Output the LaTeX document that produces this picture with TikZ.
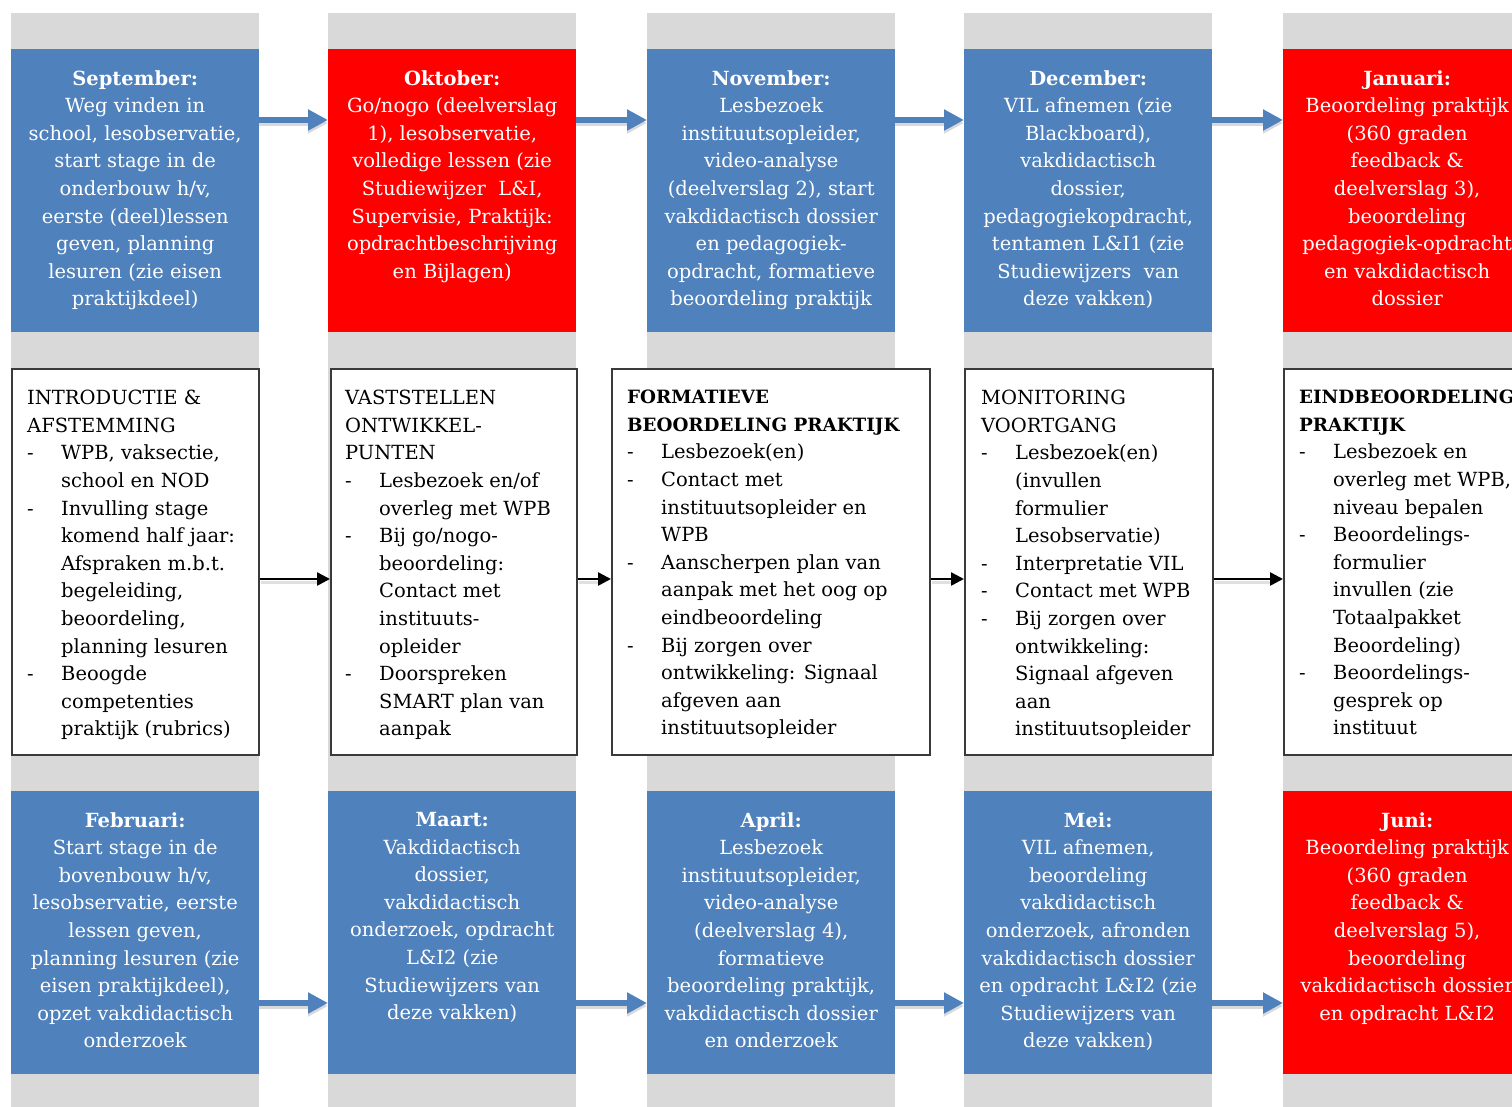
\documentclass[tikz,border=0pt]{standalone}
\usepackage{fontspec}
\setmainfont{DejaVu Serif}
\usetikzlibrary{calc,arrows.meta}
\definecolor{blueb}{HTML}{4F81BD}
\definecolor{redb}{HTML}{FF0000}
\definecolor{greyc}{HTML}{D9D9D9}
\definecolor{boxline}{HTML}{3A3A3A}
\newcommand\itm[1]{\makebox[34pt][l]{-}#1}
\newcommand\cnt[1]{\hspace*{34pt}#1}
\newcommand\hdb[1]{{\fontsize{18.3pt}{27.6pt}\selectfont\textbf{#1}}}
\tikzset{
  greycol/.style={fill=greyc,draw=none},
  monthbox/.style={minimum width=248pt,minimum height=283pt,inner sep=0pt,anchor=north west,draw=none},
  bluebox/.style={monthbox,fill=blueb},
  redbox/.style={monthbox,fill=redb},
  montht/.style={text=white,align=center,inner sep=0pt,anchor=north,font=\fontsize{19.5pt}{27.6pt}\selectfont},
  midbox/.style={draw=boxline,line width=1.5pt,fill=white,anchor=north west,inner sep=0pt,minimum height=386pt},
  midt/.style={align=left,anchor=north west,inner sep=0pt,text=black,font=\fontsize{19.5pt}{27.6pt}\selectfont},
  blockarrow/.style={draw=blueb,line width=6pt,-{Triangle[width=20pt,length=20pt]}},
  blockshadow/.style={draw=black!25,opacity=0.6,line width=6pt,-{Triangle[width=20pt,length=20pt]}},
  thinarrow/.style={draw=black,line width=2.5pt,-{Triangle[width=13pt,length=13pt]}},
  thinshadow/.style={draw=black!20,opacity=0.6,line width=3pt},
}
\begin{document}
\begin{tikzpicture}[x=1pt,y=-1pt]
\useasboundingbox (0,0) rectangle (1512,1107);
\clip (0,0) rectangle (1512,1107);
% grey columns
\foreach \cx in {11,328,647,964,1283}{
  \fill[greycol] (\cx,13) rectangle ++(248,1094);
}
% top row
\node[bluebox] (t1) at (11,49) {};
\node[redbox]  (t2) at (328,49) {};
\node[bluebox] (t3) at (647,49) {};
\node[bluebox] (t4) at (964,49) {};
\node[redbox]  (t5) at (1283,49) {};
% bottom row
\node[bluebox] (u1) at (11,791) {};
\node[bluebox] (u2) at (328,791) {};
\node[bluebox] (u3) at (647,791) {};
\node[bluebox] (u4) at (964,791) {};
\node[redbox]  (u5) at (1283,791) {};
% middle row
\node[midbox,minimum width=247pt] (m1) at (11,368) {};
\node[midbox,minimum width=246pt] (m2) at (330,368) {};
\node[midbox,minimum width=318pt] (m3) at (611,368) {};
\node[midbox,minimum width=248pt] (m4) at (964,368) {};
\node[midbox,minimum width=260pt] (m5) at (1283,368) {};

% top texts
\node[montht] (tt1) at ($(t1.north)+(0,21)$) {\textbf{September:}\\Weg vinden in\\school, lesobservatie,\\start stage in de\\onderbouw h/v,\\eerste (deel)lessen\\geven, planning\\lesuren (zie eisen\\praktijkdeel)};
\node[montht] (tt2) at ($(t2.north)+(0,21)$) {\textbf{Oktober:}\\Go/nogo (deelverslag\\1), lesobservatie,\\volledige lessen (zie\\Studiewijzer\ \ L\&I,\\Supervisie, Praktijk:\\opdrachtbeschrijving\\en Bijlagen)};
\node[montht] (tt3) at ($(t3.north)+(0,21)$) {\textbf{November:}\\Lesbezoek\\instituutsopleider,\\video-analyse\\(deelverslag 2), start\\vakdidactisch dossier\\en pedagogiek-\\opdracht, formatieve\\beoordeling praktijk};
\node[montht] (tt4) at ($(t4.north)+(0,21)$) {\textbf{December:}\\VIL afnemen (zie\\Blackboard),\\vakdidactisch\\dossier,\\pedagogiekopdracht,\\tentamen L\&I1 (zie\\Studiewijzers\ \ van\\deze vakken)};
\node[montht] (tt5) at ($(t5.north)+(0,21)$) {\textbf{Januari:}\\Beoordeling praktijk\\(360 graden\\feedback \&\\deelverslag 3),\\beoordeling\\pedagogiek-opdracht\\en vakdidactisch\\dossier};
% bottom texts
\node[montht] (ut1) at ($(u1.north)+(0,21)$) {\textbf{Februari:}\\Start stage in de\\bovenbouw h/v,\\lesobservatie, eerste\\lessen geven,\\planning lesuren (zie\\eisen praktijkdeel),\\opzet vakdidactisch\\onderzoek};
\node[montht] (ut2) at ($(u2.north)+(0,21)$) {\textbf{Maart:}\\Vakdidactisch\\dossier,\\vakdidactisch\\onderzoek, opdracht\\L\&I2 (zie\\Studiewijzers van\\deze vakken)};
\node[montht] (ut3) at ($(u3.north)+(0,21)$) {\textbf{April:}\\Lesbezoek\\instituutsopleider,\\video-analyse\\(deelverslag 4),\\formatieve\\beoordeling praktijk,\\vakdidactisch dossier\\en onderzoek};
\node[montht] (ut4) at ($(u4.north)+(0,21)$) {\textbf{Mei:}\\VIL afnemen,\\beoordeling\\vakdidactisch\\onderzoek, afronden\\vakdidactisch dossier\\en opdracht L\&I2 (zie\\Studiewijzers van\\deze vakken)};
\node[montht] (ut5) at ($(u5.north)+(0,21)$) {\textbf{Juni:}\\Beoordeling praktijk\\(360 graden\\feedback \&\\deelverslag 5),\\beoordeling\\vakdidactisch dossier\\en opdracht L\&I2};

% middle texts
\node[midt] (mt1) at ($(m1.north west)+(16,22)$) {INTRODUCTIE \&\\AFSTEMMING\\\itm{WPB, vaksectie,}\\\cnt{school en NOD}\\\itm{Invulling stage}\\\cnt{komend half jaar:}\\\cnt{Afspraken m.b.t.}\\\cnt{begeleiding,}\\\cnt{beoordeling,}\\\cnt{planning lesuren}\\\itm{Beoogde}\\\cnt{competenties}\\\cnt{praktijk (rubrics)}};
\node[midt] (mt2) at ($(m2.north west)+(15,22)$) {VASTSTELLEN\\ONTWIKKEL-\\PUNTEN\\\itm{Lesbezoek en/of}\\\cnt{overleg met WPB}\\\itm{Bij go/nogo-}\\\cnt{beoordeling:}\\\cnt{Contact met}\\\cnt{instituuts-}\\\cnt{opleider}\\\itm{Doorspreken}\\\cnt{SMART plan van}\\\cnt{aanpak}};
\node[midt] (mt3) at ($(m3.north west)+(16,22)$) {\hdb{FORMATIEVE}\\\hdb{BEOORDELING PRAKTIJK}\\\itm{Lesbezoek(en)}\\\itm{Contact met}\\\cnt{instituutsopleider en}\\\cnt{WPB}\\\itm{Aanscherpen plan van}\\\cnt{aanpak met het oog op}\\\cnt{eindbeoordeling}\\\itm{Bij zorgen over}\\\cnt{ontwikkeling: Signaal}\\\cnt{afgeven aan}\\\cnt{instituutsopleider}};
\node[midt] (mt4) at ($(m4.north west)+(17,22)$) {MONITORING\\VOORTGANG\\\itm{Lesbezoek(en)}\\\cnt{(invullen}\\\cnt{formulier}\\\cnt{Lesobservatie)}\\\itm{Interpretatie VIL}\\\itm{Contact met WPB}\\\itm{Bij zorgen over}\\\cnt{ontwikkeling:}\\\cnt{Signaal afgeven}\\\cnt{aan}\\\cnt{instituutsopleider}};
\node[midt] (mt5) at ($(m5.north west)+(16,22)$) {\hdb{EINDBEOORDELING}\\\hdb{PRAKTIJK}\\\itm{Lesbezoek en}\\\cnt{overleg met WPB,}\\\cnt{niveau bepalen}\\\itm{Beoordelings-}\\\cnt{formulier}\\\cnt{invullen (zie}\\\cnt{Totaalpakket}\\\cnt{Beoordeling)}\\\itm{Beoordelings-}\\\cnt{gesprek op}\\\cnt{instituut}};

% arrows top row
\foreach \a/\b in {t1/t2,t2/t3,t3/t4,t4/t5}{
  \draw[blockshadow] ($(\a.north east)+(0,74)$) -- ($(\b.north west)+(0,74)$);
  \draw[blockarrow] ($(\a.north east)+(0,71)$) -- ($(\b.north west)+(0,71)$);
}
% arrows bottom row
\foreach \a/\b in {u1/u2,u2/u3,u3/u4,u4/u5}{
  \draw[blockshadow] ($(\a.north east)+(0,215)$) -- ($(\b.north west)+(0,215)$);
  \draw[blockarrow] ($(\a.north east)+(0,212)$) -- ($(\b.north west)+(0,212)$);
}
% arrows middle row
\foreach \a/\b in {m1/m2,m2/m3,m3/m4,m4/m5}{
  \draw[thinshadow] ($(\a.north east)+(1,214)$) -- ($(\b.north west)+(-8,214)$);
  \draw[thinarrow] ($(\a.north east)+(0,211)$) -- ($(\b.north west)+(0,211)$);
}
\end{tikzpicture}
\end{document}
